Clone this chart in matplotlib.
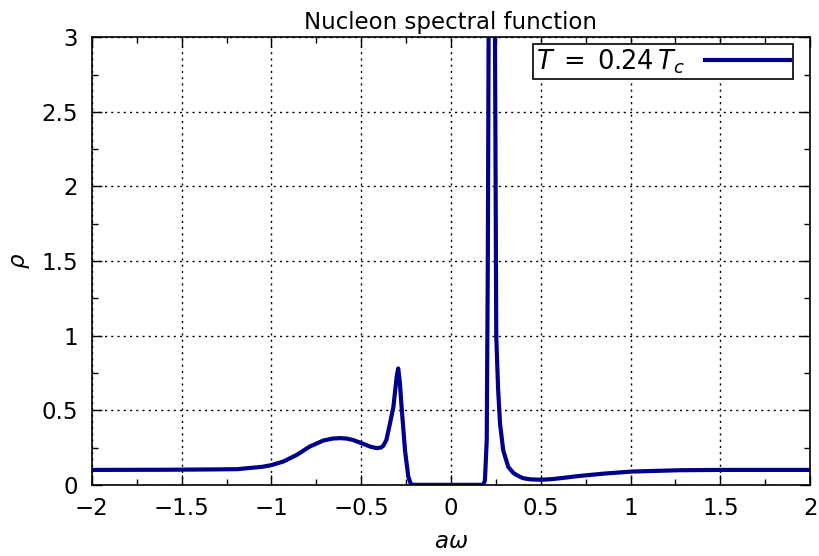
import matplotlib
matplotlib.use("Agg")
import matplotlib.pyplot as plt
from matplotlib.ticker import MultipleLocator

# Spectral function (a*omega, rho)
a_omega = [-2.0, -1.6, -1.35, -1.19, -1.05, -1.0, -0.934, -0.86, -0.786,
           -0.711, -0.66, -0.618, -0.58, -0.544, -0.489, -0.45, -0.414,
           -0.39, -0.377, -0.36, -0.34, -0.321, -0.312, -0.302, -0.294,
           -0.285, -0.275, -0.256, -0.238, -0.225, -0.215,
           0.18, 0.189, 0.199, 0.205, 0.21, 0.218, 0.226, 0.235, 0.245,
           0.252, 0.262, 0.273, 0.291, 0.319, 0.347, 0.366, 0.40, 0.44,
           0.5, 0.56, 0.62, 0.719, 0.85, 1.007, 1.276, 1.5, 2.0]
rho = [0.100, 0.101, 0.103, 0.105, 0.121, 0.132, 0.156, 0.20, 0.257,
       0.297, 0.31, 0.313, 0.31, 0.30, 0.275, 0.256, 0.246,
       0.25, 0.262, 0.30, 0.41, 0.52, 0.62, 0.73, 0.78,
       0.69, 0.52, 0.23, 0.056, 0.01, 0.0,
       0.0, 0.03, 0.3, 1.5, 3.2, 4.6, 5.0, 4.5, 3.0,
       1.0, 0.65, 0.41, 0.23, 0.12, 0.08, 0.065, 0.045, 0.037,
       0.034, 0.038, 0.046, 0.06, 0.075, 0.089, 0.098, 0.10, 0.10]

legend_label = r"$T\;=\;0.24\,T_c$"

plt.rcParams["font.family"] = ["DejaVu Sans"]
plt.rcParams["mathtext.fontset"] = "dejavusans"

fig = plt.figure(figsize=(8.2, 5.56), dpi=100)
ax = fig.add_axes([0.112, 0.128, 0.876, 0.805])

ax.plot(a_omega, rho, color="#00008b", lw=3.0, label=legend_label,
        solid_joinstyle="round")

ax.set_xlim(-2, 2)
ax.set_ylim(0, 3)
ax.xaxis.set_minor_locator(MultipleLocator(0.25))
ax.yaxis.set_minor_locator(MultipleLocator(0.25))
ax.set_xticks([-2, -1.5, -1, -0.5, 0, 0.5, 1, 1.5, 2])
ax.set_xticklabels(["\u22122", "\u22121.5", "\u22121", "\u22120.5", "0",
                    "0.5", "1", "1.5", "2"])
ax.set_yticks([0, 0.5, 1, 1.5, 2, 2.5, 3])
ax.set_yticklabels(["0", "0.5", "1", "1.5", "2", "2.5", "3"])
ax.tick_params(which="both", direction="in", top=True, right=True,
               labelsize=16.5, width=1.0)
ax.tick_params(which="major", length=7)
ax.tick_params(which="minor", length=4)
ax.tick_params(axis="y", pad=10)
ax.tick_params(axis="x", pad=9)
ax.grid(True, which="major", color="black", linestyle=(0, (1.5, 3)), lw=1.0)
for s in ax.spines.values():
    s.set_linewidth(1.2)

ax.set_title("Nucleon spectral function", fontsize=16.5, pad=6)
ax.set_xlabel(r"$a\omega$", fontsize=16.5, labelpad=7)
ax.set_ylabel(r"$\rho$", fontsize=16.5, labelpad=7)

leg = ax.legend(loc="upper right", markerfirst=False, fontsize=18.5,
                frameon=True, fancybox=False, framealpha=1,
                edgecolor="black", handlelength=3.3, borderpad=0.12,
                handletextpad=0.8, bbox_to_anchor=(793 / 820, 1 - 44 / 556),
                bbox_transform=fig.transFigure, borderaxespad=0)
leg.get_frame().set_linewidth(1.2)

fig.savefig("out.png", dpi=100)
